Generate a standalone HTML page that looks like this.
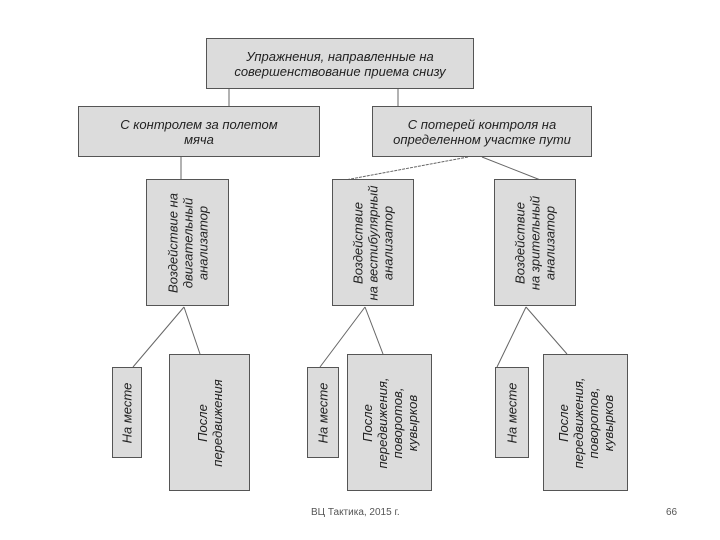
<!DOCTYPE html>
<html><head><meta charset="utf-8"><style>
body{margin:0;width:720px;height:540px;background:#fff;position:relative;overflow:hidden;font-family:"Liberation Sans",sans-serif;}
.b{position:absolute;background:#dcdcdc;border:1px solid #555;box-sizing:border-box;display:flex;align-items:center;justify-content:center;text-align:center;font-style:italic;color:#222;font-size:13px;line-height:15px;}
.r{position:absolute;left:50%;top:50%;transform:translate(-50%,-50%) rotate(-90deg);white-space:nowrap;text-align:center;}
.f{position:absolute;top:507px;font-size:10px;color:#555;}
</style></head><body>
<svg width="720" height="540" style="position:absolute;left:0;top:0">
<g stroke="#666" stroke-width="1" fill="none">
<line x1="229" y1="89" x2="229" y2="106"/>
<line x1="398" y1="89" x2="398" y2="106"/>
<line x1="181" y1="157" x2="181" y2="179"/>
<line x1="468" y1="157" x2="340" y2="181" stroke-dasharray="3,1"/>
<line x1="482" y1="157" x2="543" y2="181"/>
<line x1="184" y1="307" x2="133" y2="367"/><line x1="184" y1="307" x2="200" y2="354"/>
<line x1="365" y1="307" x2="320" y2="367"/><line x1="365" y1="307" x2="383" y2="354"/>
<line x1="526" y1="307" x2="497" y2="367"/><line x1="526" y1="307" x2="567" y2="354"/>
</g></svg>
<div class="b" style="left:206px;top:38px;width:268px;height:51px">Упражнения, направленные на<br>совершенствование приема снизу</div>
<div class="b" style="left:78px;top:106px;width:242px;height:51px">С контролем за полетом<br>мяча</div>
<div class="b" style="left:372px;top:106px;width:220px;height:51px">С потерей контроля на<br>определенном участке пути</div>
<div class="b" style="left:146px;top:179px;width:83px;height:127px"><div class="r">Воздействие на<br>двигательный<br>анализатор</div></div>
<div class="b" style="left:332px;top:179px;width:82px;height:127px"><div class="r">Воздействие<br>на вестибулярный<br>анализатор</div></div>
<div class="b" style="left:494px;top:179px;width:82px;height:127px"><div class="r">Воздействие<br>на зрительный<br>анализатор</div></div>
<div class="b" style="left:112px;top:367px;width:30px;height:91px"><div class="r">На месте</div></div>
<div class="b" style="left:169px;top:354px;width:81px;height:137px"><div class="r">После<br>передвижения</div></div>
<div class="b" style="left:307px;top:367px;width:32px;height:91px"><div class="r">На месте</div></div>
<div class="b" style="left:347px;top:354px;width:85px;height:137px"><div class="r">После<br>передвижения,<br>поворотов,<br>кувырков</div></div>
<div class="b" style="left:495px;top:367px;width:34px;height:91px"><div class="r">На месте</div></div>
<div class="b" style="left:543px;top:354px;width:85px;height:137px"><div class="r">После<br>передвижения,<br>поворотов,<br>кувырков</div></div>
<div class="f" style="left:311px">ВЦ Тактика, 2015 г.</div>
<div class="f" style="left:666px">66</div>
</body></html>
